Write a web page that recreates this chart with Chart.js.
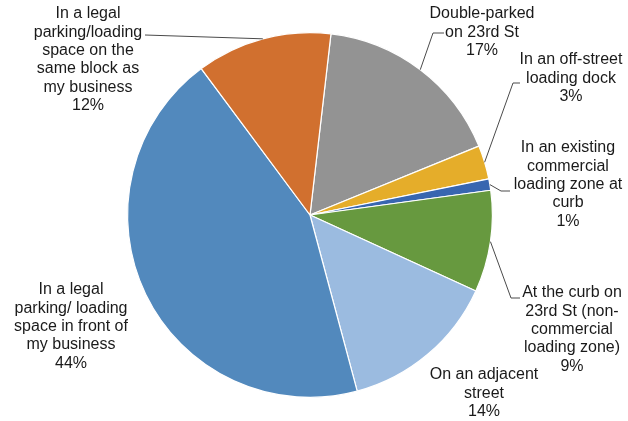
<!DOCTYPE html>
<html>
<head>
<meta charset="utf-8">
<script src="https://cdn.jsdelivr.net/npm/chart.js@4"></script>
<style>
  html, body { margin: 0; padding: 0; background: #fff; }
  #wrap { width: 628px; height: 421px; }
</style>
</head>
<body>
<div id="wrap"><canvas id="pie-chart" width="628" height="421"></canvas></div>
<script>
// Slices, clockwise from the gray one
const categories = [
    ['Double-parked', 'on 23rd St'],
    ['In an off-street', 'loading dock'],
    ['In an existing', 'commercial', 'loading zone at', 'curb'],
    ['At the curb on', '23rd St (non-', 'commercial', 'loading zone)'],
    ['On an adjacent', 'street'],
    ['In a legal', 'parking/ loading', 'space in front of', 'my business'],
    ['In a legal', 'parking/loading', 'space on the', 'same block as', 'my business']
];
const shares = [17, 3, 1, 9, 14, 44, 12];
const sliceColors = ['#939393', '#E5AD2A', '#3866B0', '#67993F', '#9BBBE0', '#5289BD', '#D1702F'];

// where each label block sits (center x, first line y) and its leader bend
const labelSpots = [
    { x: 482, y: 14, bend: [433, 33], end: [444, 33] },
    { x: 571, y: 60, bend: [513, 83], end: [520, 83] },
    { x: 568, y: 148, bend: [501, 191], end: [510, 191] },
    { x: 572, y: 293, bend: [511, 298], end: [520, 298] },
    { x: 484, y: 375 },
    { x: 71, y: 290 },
    { x: 88, y: 14, bend: null, end: [145, 35] }
];

const lineGap = 18.3;

const pieLabels = {
    id: 'pieLabels',
    afterDraw(chart) {
        const c = chart.ctx;
        const arcs = chart.getDatasetMeta(0).data;
        c.save();
        c.strokeStyle = '#4a4a4a';
        c.lineWidth = 1;
        arcs.forEach((arc, i) => {
            const spot = labelSpots[i];
            if (!spot.end) return;
            const mid = (arc.startAngle + arc.endAngle) / 2;
            const sx = arc.x + Math.cos(mid) * arc.outerRadius;
            const sy = arc.y + Math.sin(mid) * arc.outerRadius;
            c.beginPath();
            c.moveTo(sx, sy);
            if (spot.bend) c.lineTo(spot.bend[0], spot.bend[1]);
            c.lineTo(spot.end[0], spot.end[1]);
            c.stroke();
        });
        c.fillStyle = '#1a1a1a';
        c.font = '16px "Liberation Sans", Arial, sans-serif';
        c.textAlign = 'center';
        c.textBaseline = 'middle';
        categories.forEach((lines, i) => {
            const spot = labelSpots[i];
            const all = lines.concat([shares[i] + '%']);
            all.forEach((t, k) => c.fillText(t, spot.x, spot.y + k * lineGap));
        });
        c.restore();
    }
};

const ctx = document.getElementById('pie-chart').getContext('2d');
new Chart(ctx, {
    type: 'pie',
    data: {
        labels: categories.map(l => l.join(' ')),
        datasets: [{
            data: shares,
            backgroundColor: sliceColors,
            borderColor: '#ffffff',
            borderWidth: 1.2
        }]
    },
    options: {
        responsive: false,
        animation: false,
        rotation: 6.6,
        layout: { padding: { left: 127, right: 135, top: 32, bottom: 23 } },
        plugins: {
            legend: { display: false },
            tooltip: { enabled: false }
        }
    },
    plugins: [pieLabels]
});
</script>
</body>
</html>
